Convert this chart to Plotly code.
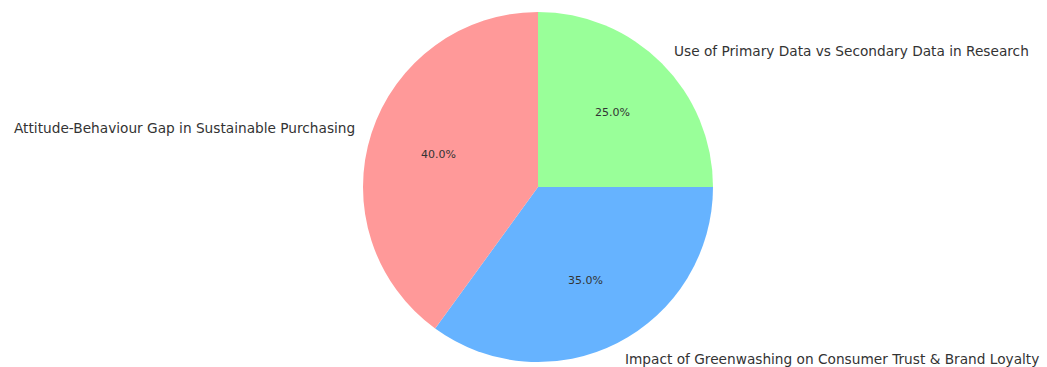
import math
import plotly.graph_objects as go

labels = [
    "Attitude-Behaviour Gap in Sustainable Purchasing",
    "Impact of Greenwashing on Consumer Trust & Brand Loyalty",
    "Use of Primary Data vs Secondary Data in Research",
]
values = [40, 35, 25]
colors = ["#ff9999", "#66b3ff", "#99ff99"]

W, H = 1047, 367
cx, cy, r = 538, 187, 175  # pixel centre (from top) and radius of the pie
start_angle = 90

# slices run counter-clockwise from 12 o'clock in data order; plotly draws
# clockwise from 12 o'clock, so feed it the reversed order
fig = go.Figure(go.Pie(
    labels=labels[::-1],
    values=values[::-1],
    sort=False,
    direction="clockwise",
    rotation=0,
    marker=dict(colors=colors[::-1], line=dict(width=0)),
    textinfo="none",
    hoverinfo="label+percent",
    showlegend=False,
    domain=dict(x=[(cx - r) / W, (cx + r) / W], y=[(H - cy - r) / H, (H - cy + r) / H]),
))

total = sum(values)
annotations = []
acc = 0
for lab, v in zip(labels, values):
    mid = math.radians(start_angle + (acc + v / 2) / total * 360)
    acc += v
    lx = cx + 1.1 * r * math.cos(mid)
    ly = cy - 1.1 * r * math.sin(mid)
    right = math.cos(mid) > 0
    annotations.append(dict(
        x=lx / W, y=(H - ly) / H, xref="paper", yref="paper",
        text=lab, showarrow=False,
        xanchor="left" if right else "right", yanchor="middle",
        xshift=-2 if right else 2,
        font=dict(family="DejaVu Sans", size=13.7, color="#333333"),
    ))
    px = cx + 0.6 * r * math.cos(mid)
    py = cy - 0.6 * r * math.sin(mid)
    annotations.append(dict(
        x=px / W, y=(H - py) / H, xref="paper", yref="paper",
        text=f"{v / total * 100:.1f}%", showarrow=False,
        xanchor="center", yanchor="middle",
        font=dict(family="DejaVu Sans", size=11, color="#333333"),
    ))

fig.update_layout(
    width=W, height=H,
    margin=dict(l=0, r=0, t=0, b=0),
    paper_bgcolor="white",
    plot_bgcolor="white",
    annotations=annotations,
)

fig.write_html("out.html")
